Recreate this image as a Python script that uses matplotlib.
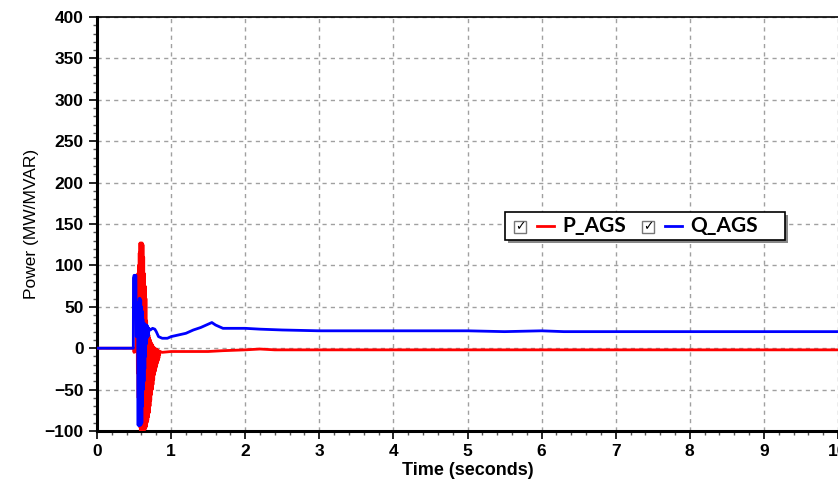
import matplotlib
matplotlib.use("Agg")
import matplotlib.pyplot as plt
from matplotlib.patches import Rectangle
from matplotlib.ticker import MultipleLocator

# P_AGS (red)
p_t = [0.0, 0.49, 0.50, 0.51, 0.525,
       0.530, 0.535, 0.540, 0.545, 0.550, 0.555, 0.560, 0.565, 0.570, 0.575,
       0.580, 0.585, 0.590, 0.595, 0.600, 0.605, 0.610, 0.615, 0.620, 0.625,
       0.630, 0.635, 0.640, 0.645, 0.650, 0.655, 0.660, 0.665, 0.670, 0.675,
       0.680, 0.685, 0.690, 0.695, 0.700, 0.705, 0.710, 0.715, 0.720, 0.725,
       0.730, 0.735, 0.740, 0.745, 0.750, 0.755, 0.760, 0.765, 0.770, 0.775,
       0.780, 0.785, 0.790, 0.795, 0.800, 0.805, 0.810, 0.815, 0.820, 0.825,
       0.830, 0.835, 0.840, 0.845, 0.850,
       0.88, 1.0, 1.3, 1.5, 1.7, 2.0, 2.2, 2.4, 3.0, 10.0]
p_v = [0, 0, -5, 0, 0,
       72, -5, 75, -30, 90, -60, 100, -80, 115, -95,
       127, -99, 127, -99, 127, -99, 127, -99, 125, -99,
       110, -99, 90, -98, 75, -97, 60, -95, 33, -90,
       26, -87, 20, -83, 16, -78, 12, -70, 10, -63,
       7, -56, 5, -50, 4, -44, 2, -38, 1, -32,
       0, -28, -1, -24, -1, -21, -2, -18, -2, -15,
       -3, -12, -4, -8, -4,
       -5, -4, -4, -4, -3, -2, -1, -2, -2, -2]

# Q_AGS (blue)
q_t = [0.0, 0.49, 0.492, 0.50, 0.525, 0.53, 0.55,
       0.555, 0.560, 0.565, 0.570, 0.575, 0.580, 0.585, 0.590, 0.595, 0.600,
       0.605, 0.610, 0.615, 0.620, 0.625, 0.630, 0.635, 0.640, 0.645, 0.650,
       0.655, 0.660, 0.665, 0.670, 0.675, 0.680, 0.685, 0.690, 0.695, 0.700,
       0.72, 0.75, 0.78, 0.80, 0.83, 0.88, 0.95, 1.0, 1.1, 1.2, 1.3, 1.4, 1.5,
       1.55, 1.6, 1.7, 2.0, 2.2, 2.5, 3.0, 4.0, 5.0, 5.5, 6.0, 6.3, 10.0]
q_v = [0, 0, 85, 88, 88, 14, 14,
       -93, 55, -93, 60, -93, 60, -93, 58, -92, 50,
       -90, 45, -70, 35, -50, 30, -40, 30, -25, 28,
       -10, 28, 5, 28, 12, 27, 14, 25, 15, 24,
       22, 24, 23, 20, 14, 12, 12, 14, 16, 18, 22, 25, 29,
       31, 28, 24, 24, 23, 22, 21, 21, 21, 20, 21, 20, 20]

fig = plt.figure(figsize=(8.38, 4.82), dpi=100)
ax = fig.add_axes([97/838, 1 - 431/482, 741/838, 414/482])

ax.plot(p_t, p_v, color="#ff0000", lw=2, zorder=3)
ax.plot(q_t, q_v, color="#0000ff", lw=2, zorder=4)

ax.set_xlim(0, 10)
ax.set_ylim(-100, 400)
ax.xaxis.set_major_locator(MultipleLocator(1))
ax.xaxis.set_minor_locator(MultipleLocator(0.2))
ax.yaxis.set_major_locator(MultipleLocator(50))
ax.yaxis.set_minor_locator(MultipleLocator(10))
ax.grid(True, which="major", color="#a0a0a0", ls=(0, (3, 3)), lw=1)

for s in ["left", "bottom"]:
    ax.spines[s].set_linewidth(2.2)
ax.spines["top"].set_linewidth(1.2)
ax.spines["right"].set_visible(False)
ax.tick_params(which="major", length=6, width=1.2, direction="out")
ax.tick_params(which="minor", length=3, width=1, direction="out", color="#555555")

for lab in ax.get_xticklabels() + ax.get_yticklabels():
    lab.set_fontfamily("Liberation Sans")
    lab.set_fontweight("bold")
    lab.set_fontsize(12.5)

ax.set_xlabel("Time (seconds)", fontfamily="Liberation Sans", fontweight="bold",
              fontsize=13, labelpad=2)
ax.set_ylabel("Power (MW/MVAR)", fontfamily="Liberation Sans", fontsize=12.5,
              labelpad=4)

# legend box drawn by hand (checkbox style)
tr = ax.transAxes
def fx(px):
    return (px - 97) / 741
def fy(py):
    return (431 - py) / 414

ax.add_patch(Rectangle((fx(508), fy(243)), fx(785) - fx(505), fy(212) - fy(240),
                       transform=tr, facecolor="#888888", edgecolor="none", zorder=9))
ax.add_patch(Rectangle((fx(505), fy(240)), fx(785) - fx(505), fy(212) - fy(240),
                       transform=tr, facecolor="white", edgecolor="black", lw=1.2, zorder=10))

items = [(514, "#ff0000", "P_AGS"), (642, "#0000ff", "Q_AGS")]
for x0, col, name in items:
    ax.add_patch(Rectangle((fx(x0), fy(233)), fx(x0 + 12) - fx(x0), fy(221) - fy(233),
                           transform=tr, facecolor="white", edgecolor="#777777",
                           lw=1, zorder=11))
    ax.text(fx(x0 + 6), fy(227), "\u2713", transform=tr, ha="center", va="center",
            fontsize=9, fontfamily="DejaVu Sans", color="black", zorder=12)
    ax.plot([fx(x0 + 23), fx(x0 + 40)], [fy(226), fy(226)], transform=tr,
            color=col, lw=2, zorder=12, clip_on=False)
    ax.text(fx(x0 + 48), fy(226), name, transform=tr, ha="left", va="center",
            fontsize=15, fontfamily="Lato", fontweight="bold", zorder=12)

fig.savefig("out.png", dpi=100)
